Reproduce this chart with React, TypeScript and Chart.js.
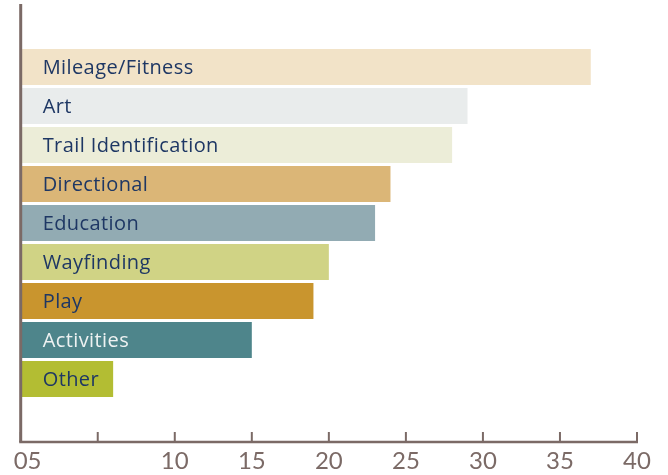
import React, { useEffect, useRef } from "react";
import { Chart, registerables } from "chart.js";

Chart.register(...registerables);

const categories = [
  "Mileage/Fitness",
  "Art",
  "Trail Identification",
  "Directional",
  "Education",
  "Wayfinding",
  "Play",
  "Activities",
  "Other",
];
const values = [37, 29, 28, 24, 23, 20, 19, 15, 6];
const barColors = [
  "#f2e3c8",
  "#e9ecec",
  "#ecedd8",
  "#dbb677",
  "#92abb3",
  "#d0d385",
  "#c9952e",
  "#4e858b",
  "#b3bd33",
];
const labelColors = [
  "#1e3764",
  "#1e3764",
  "#1e3764",
  "#1e3764",
  "#1e3764",
  "#1e3764",
  "#1e3764",
  "#eef2f2",
  "#1e3764",
];
const xTickValues = [0, 5, 10, 15, 20, 25, 30, 35, 40];
const xTickLabels = ["05", "", "10", "15", "20", "25", "30", "35", "40"];

const AXIS = "#7b6a66";

const overlay = {
  id: "overlay",
  afterDatasetsDraw(chart: any) {
    const ctx = chart.ctx;
    const xs = chart.scales.x;
    const area = chart.chartArea;
    const x0 = xs.getPixelForValue(0);
    ctx.save();
    // bar labels
    ctx.font = "500 20px 'Open Sans', Lato, sans-serif";
    try { (ctx as any).letterSpacing = "0.4px"; } catch (e) {}
    ctx.textBaseline = "middle";
    ctx.textAlign = "left";
    const meta = chart.getDatasetMeta(0);
    meta.data.forEach((bar: any, i: number) => {
      ctx.fillStyle = labelColors[i];
      ctx.fillText(categories[i], x0 + 22, bar.y + 1.5);
    });
    try { (ctx as any).letterSpacing = "0px"; } catch (e) {}
    // axes
    ctx.strokeStyle = AXIS;
    ctx.lineWidth = 3;
    ctx.beginPath();
    ctx.moveTo(x0, area.top);
    ctx.lineTo(x0, area.bottom);
    ctx.stroke();
    ctx.lineWidth = 2.5;
    ctx.beginPath();
    ctx.moveTo(x0 - 1.5, area.bottom);
    ctx.lineTo(xs.getPixelForValue(40) + 1, area.bottom);
    ctx.stroke();
    ctx.lineWidth = 2;
    xTickValues.forEach((v) => {
      const px = xs.getPixelForValue(v);
      ctx.beginPath();
      ctx.moveTo(px, area.bottom);
      ctx.lineTo(px, area.bottom - 10);
      ctx.stroke();
    });
    // tick labels
    ctx.fillStyle = AXIS;
    ctx.font = "24px Lato, 'Open Sans', sans-serif";
    ctx.textBaseline = "top";
    xTickValues.forEach((v, i) => {
      const px = xs.getPixelForValue(v);
      const t = xTickLabels[i];
      if (!t) return;
      if (v === 0) {
        ctx.textAlign = "left";
        ctx.fillText(t, px - 7, area.bottom + 7);
      } else {
        ctx.textAlign = "center";
        ctx.fillText(t, px, area.bottom + 7);
      }
    });
    ctx.restore();
  },
};

export default function App() {
  const ref = useRef<HTMLCanvasElement | null>(null);
  useEffect(() => {
    if (!ref.current) return;
    const chart = new Chart(ref.current, {
      type: "bar",
      data: {
        datasets: [
          {
            data: values.map((v, i) => ({ x: v, y: i })),
            backgroundColor: barColors,
            borderWidth: 0,
            barPercentage: 0.923,
            categoryPercentage: 1,
          },
        ],
      },
      options: {
        indexAxis: "y",
        responsive: false,
        animation: false,
        layout: { padding: { left: 20.7, right: 31, top: 4, bottom: 33 } },
        plugins: {
          legend: { display: false },
          tooltip: { enabled: false },
        },
        scales: {
          x: { type: "linear", min: 0, max: 40, display: false, offset: false },
          y: {
            type: "linear",
            reverse: true,
            min: -1.615,
            max: 9.615,
            display: false,
            offset: false,
            bounds: "data",
            grace: 0,
          },
        },
      },
      plugins: [overlay],
    });
    return () => chart.destroy();
  }, []);
  return (
    <div style={{ position: "absolute", left: 0, top: 0, width: 668, height: 475 }}>
      <canvas ref={ref} width={668} height={475} />
    </div>
  );
}
